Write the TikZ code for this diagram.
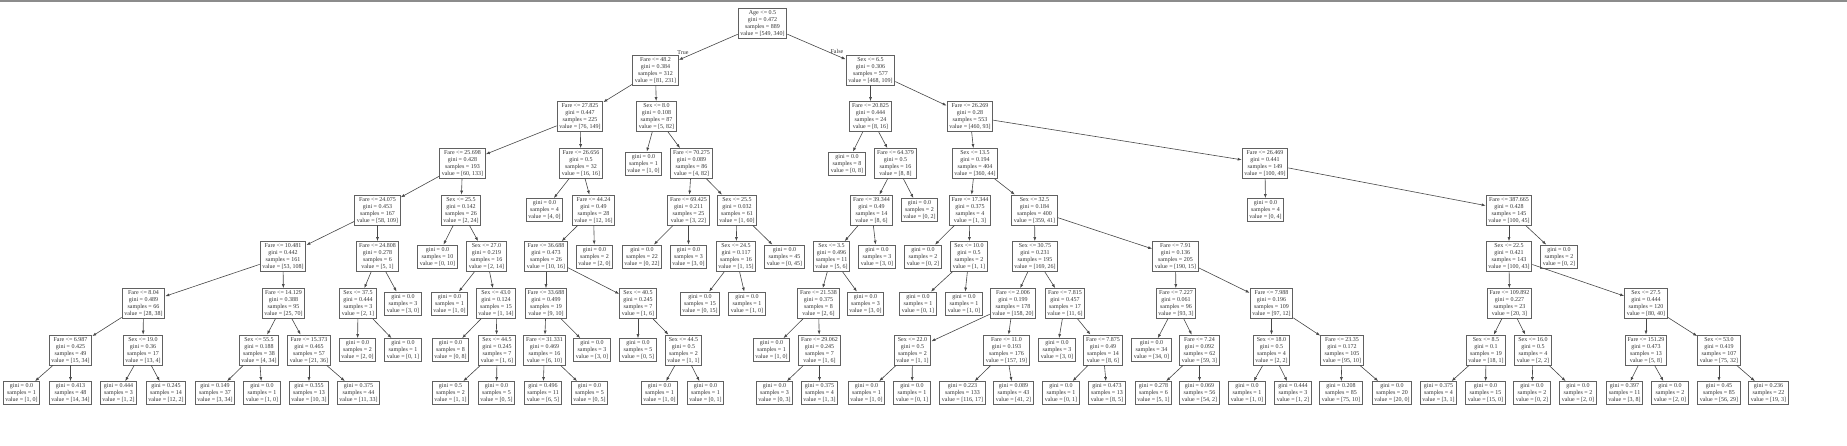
\documentclass[tikz,border=0pt]{standalone}
\usepackage{fontspec}
\setmainfont{Liberation Serif}
\usetikzlibrary{arrows.meta}

\tikzset{
  tn/.style={draw=black!62, line width=0.9pt, fill=white, align=center,
    inner xsep=2.2pt, inner ysep=2pt, text=black!80,
    font=\fontsize{6}{7}\selectfont},
  ar/.style={draw=black!72, line width=0.6pt, -{Latex[length=4pt,width=3pt]}},
  lbl/.style={font=\fontsize{6}{7}\selectfont, text=black!80, inner sep=1pt}
}
\newcommand{\spbox}[4]{#1\\gini = #2\\samples = #3\\value = [#4]}
\newcommand{\lfbox}[3]{gini = #1\\samples = #2\\value = [#3]}

\begin{document}
\begin{tikzpicture}[x=1pt,y=-1pt]
\useasboundingbox (0,0) rectangle (1847,445);
\draw[black!45, line width=1.2pt] (0,1) -- (1847,1);

% root and left half
\node[tn] (n0) at (762.5,23.5) {\spbox{Age <= 0.5}{0.472}{889}{549, 340}};
\node[tn] (n1) at (655.5,70) {\spbox{Fare <= 48.2}{0.384}{312}{81, 231}};
\node[tn] (n2) at (580,116.5) {\spbox{Fare <= 27.825}{0.447}{225}{76, 149}};
\node[tn] (n3) at (462.5,163.5) {\spbox{Fare <= 25.698}{0.428}{193}{60, 133}};
\node[tn] (n4) at (377.5,210) {\spbox{Fare <= 24.075}{0.453}{167}{58, 109}};
\node[tn] (n5) at (283,256.5) {\spbox{Fare <= 10.481}{0.442}{161}{53, 108}};
\node[tn] (n6) at (143.5,303.5) {\spbox{Fare <= 8.04}{0.489}{66}{28, 38}};
\node[tn] (n7) at (70.5,350) {\spbox{Fare <= 6.987}{0.425}{49}{15, 34}};
\node[tn] (n8) at (21.5,393) {\lfbox{0.0}{1}{1, 0}};
\node[tn] (n9) at (70.5,393) {\lfbox{0.413}{48}{14, 34}};
\node[tn] (n10) at (143,350) {\spbox{Sex <= 19.0}{0.36}{17}{13, 4}};
\node[tn] (n11) at (118.5,393) {\lfbox{0.444}{3}{1, 2}};
\node[tn] (n12) at (166,393) {\lfbox{0.245}{14}{12, 2}};
\node[tn] (n13) at (283.5,303.5) {\spbox{Fare <= 14.129}{0.388}{95}{25, 70}};
\node[tn] (n14) at (259,350) {\spbox{Sex <= 55.5}{0.188}{38}{4, 34}};
\node[tn] (n15) at (215,393) {\lfbox{0.149}{37}{3, 34}};
\node[tn] (n16) at (262,393) {\lfbox{0.0}{1}{1, 0}};
\node[tn] (n17) at (309,350) {\spbox{Fare <= 15.373}{0.465}{57}{21, 36}};
\node[tn] (n18) at (309,393) {\lfbox{0.355}{13}{10, 3}};
\node[tn] (n19) at (358.5,393) {\lfbox{0.375}{44}{11, 33}};
\node[tn] (n20) at (377.5,256.5) {\spbox{Fare <= 24.808}{0.278}{6}{5, 1}};
\node[tn] (n21) at (358,303.5) {\spbox{Sex <= 37.5}{0.444}{3}{2, 1}};
\node[tn] (n22) at (357.5,350) {\lfbox{0.0}{2}{2, 0}};
\node[tn] (n23) at (403,350) {\lfbox{0.0}{1}{0, 1}};
\node[tn] (n24) at (403,303.5) {\lfbox{0.0}{3}{3, 0}};
\node[tn] (n25) at (461,210) {\spbox{Sex <= 25.5}{0.142}{26}{2, 24}};
\node[tn] (n26) at (437.5,256.5) {\lfbox{0.0}{10}{0, 10}};
\node[tn] (n27) at (486.5,256.5) {\spbox{Sex <= 27.0}{0.219}{16}{2, 14}};
\node[tn] (n28) at (449.5,303.5) {\lfbox{0.0}{1}{1, 0}};
\node[tn] (n29) at (496,303.5) {\spbox{Sex <= 43.0}{0.124}{15}{1, 14}};
\node[tn] (n30) at (450.5,350) {\lfbox{0.0}{8}{0, 8}};
\node[tn] (n31) at (497,350) {\spbox{Sex <= 44.5}{0.245}{7}{1, 6}};
\node[tn] (n32) at (450.5,393) {\lfbox{0.5}{2}{1, 1}};
\node[tn] (n33) at (496.5,393) {\lfbox{0.0}{5}{0, 5}};
\node[tn] (n34) at (581,163.5) {\spbox{Fare <= 26.656}{0.5}{32}{16, 16}};
\node[tn] (n35) at (544.5,210) {\lfbox{0.0}{4}{4, 0}};
\node[tn] (n36) at (593.5,210) {\spbox{Fare <= 44.24}{0.49}{28}{12, 16}};
\node[tn] (n37) at (546,256.5) {\spbox{Fare <= 36.688}{0.473}{26}{10, 16}};
\node[tn] (n38) at (546,303.5) {\spbox{Fare <= 33.688}{0.499}{19}{9, 10}};
\node[tn] (n39) at (544.5,350) {\spbox{Fare <= 31.331}{0.469}{16}{6, 10}};
\node[tn] (n40) at (543,393) {\lfbox{0.496}{11}{6, 5}};
\node[tn] (n41) at (589.5,393) {\lfbox{0.0}{5}{0, 5}};
\node[tn] (n42) at (592,350) {\lfbox{0.0}{3}{3, 0}};
\node[tn] (n43) at (638,303.5) {\spbox{Sex <= 40.5}{0.245}{7}{1, 6}};
\node[tn] (n44) at (638,350) {\lfbox{0.0}{5}{0, 5}};
\node[tn] (n45) at (683.5,350) {\spbox{Sex <= 44.5}{0.5}{2}{1, 1}};
\node[tn] (n46) at (659.5,393) {\lfbox{0.0}{1}{1, 0}};
\node[tn] (n47) at (705.5,393) {\lfbox{0.0}{1}{0, 1}};
\node[tn] (n48) at (594.5,256.5) {\lfbox{0.0}{2}{2, 0}};
\node[tn] (n49) at (656.5,116.5) {\spbox{Sex <= 8.0}{0.108}{87}{5, 82}};
\node[tn] (n50) at (643.5,163.5) {\lfbox{0.0}{1}{1, 0}};
\node[tn] (n51) at (691.5,163.5) {\spbox{Fare <= 70.275}{0.089}{86}{4, 82}};
\node[tn] (n52) at (688.5,210) {\spbox{Fare <= 69.425}{0.211}{25}{3, 22}};
\node[tn] (n53) at (642,256.5) {\lfbox{0.0}{22}{0, 22}};
\node[tn] (n54) at (688.5,256.5) {\lfbox{0.0}{3}{3, 0}};
\node[tn] (n55) at (737,210) {\spbox{Sex <= 25.5}{0.032}{61}{1, 60}};
\node[tn] (n56) at (736,256.5) {\spbox{Sex <= 24.5}{0.117}{16}{1, 15}};
\node[tn] (n57) at (700,303.5) {\lfbox{0.0}{15}{0, 15}};
\node[tn] (n58) at (747,303.5) {\lfbox{0.0}{1}{1, 0}};
\node[tn] (n59) at (784.5,256.5) {\lfbox{0.0}{45}{0, 45}};

% right half
\node[tn] (n60) at (870.5,70) {\spbox{Sex <= 6.5}{0.306}{577}{468, 109}};
\node[tn] (n61) at (870.5,116.5) {\spbox{Fare <= 20.825}{0.444}{24}{8, 16}};
\node[tn] (n62) at (847,163.5) {\lfbox{0.0}{8}{0, 8}};
\node[tn] (n63) at (895.5,163.5) {\spbox{Fare <= 64.379}{0.5}{16}{8, 8}};
\node[tn] (n64) at (871.5,210) {\spbox{Fare <= 39.344}{0.49}{14}{8, 6}};
\node[tn] (n65) at (831.5,256.5) {\spbox{Sex <= 3.5}{0.496}{11}{5, 6}};
\node[tn] (n66) at (818.5,303.5) {\spbox{Fare <= 21.538}{0.375}{8}{2, 6}};
\node[tn] (n67) at (771.5,350) {\lfbox{0.0}{1}{1, 0}};
\node[tn] (n68) at (819.5,350) {\spbox{Fare <= 29.062}{0.245}{7}{1, 6}};
\node[tn] (n69) at (774.5,393) {\lfbox{0.0}{3}{0, 3}};
\node[tn] (n70) at (819.5,393) {\lfbox{0.375}{4}{1, 3}};
\node[tn] (n71) at (865.5,303.5) {\lfbox{0.0}{3}{3, 0}};
\node[tn] (n72) at (877,256.5) {\lfbox{0.0}{3}{3, 0}};
\node[tn] (n73) at (919.5,210) {\lfbox{0.0}{2}{0, 2}};
\node[tn] (n74) at (970,116.5) {\spbox{Fare <= 26.269}{0.28}{553}{460, 93}};
\node[tn] (n75) at (975,163.5) {\spbox{Sex <= 13.5}{0.194}{404}{360, 44}};
\node[tn] (n76) at (970,210) {\spbox{Fare <= 17.344}{0.375}{4}{1, 3}};
\node[tn] (n77) at (923,256.5) {\lfbox{0.0}{2}{0, 2}};
\node[tn] (n78) at (969,256.5) {\spbox{Sex <= 10.0}{0.5}{2}{1, 1}};
\node[tn] (n79) at (918,303.5) {\lfbox{0.0}{1}{0, 1}};
\node[tn] (n80) at (964,303.5) {\lfbox{0.0}{1}{1, 0}};
\node[tn] (n81) at (1034.5,210) {\spbox{Sex <= 32.5}{0.184}{400}{359, 41}};
\node[tn] (n82) at (1035,256.5) {\spbox{Sex <= 30.75}{0.231}{195}{169, 26}};
\node[tn] (n83) at (1013,303.5) {\spbox{Fare <= 2.006}{0.199}{178}{158, 20}};
\node[tn] (n84) at (912.5,350) {\spbox{Sex <= 22.0}{0.5}{2}{1, 1}};
\node[tn] (n85) at (866.5,393) {\lfbox{0.0}{1}{1, 0}};
\node[tn] (n86) at (912,393) {\lfbox{0.0}{1}{0, 1}};
\node[tn] (n87) at (1006.5,350) {\spbox{Fare <= 11.0}{0.193}{176}{157, 19}};
\node[tn] (n88) at (962.5,393) {\lfbox{0.223}{133}{116, 17}};
\node[tn] (n89) at (1013.5,393) {\lfbox{0.089}{43}{41, 2}};
\node[tn] (n90) at (1065,303.5) {\spbox{Fare <= 7.815}{0.457}{17}{11, 6}};
\node[tn] (n91) at (1057,350) {\lfbox{0.0}{3}{3, 0}};
\node[tn] (n92) at (1103,350) {\spbox{Fare <= 7.875}{0.49}{14}{8, 6}};
\node[tn] (n93) at (1061,393) {\lfbox{0.0}{1}{0, 1}};
\node[tn] (n94) at (1107,393) {\lfbox{0.473}{13}{8, 5}};
\node[tn] (n95) at (1175.5,256.5) {\spbox{Fare <= 7.91}{0.136}{205}{190, 15}};
\node[tn] (n96) at (1176,303.5) {\spbox{Fare <= 7.227}{0.061}{96}{93, 3}};
\node[tn] (n97) at (1151.5,350) {\lfbox{0.0}{34}{34, 0}};
\node[tn] (n98) at (1199.5,350) {\spbox{Fare <= 7.24}{0.092}{62}{59, 3}};
\node[tn] (n99) at (1153.5,393) {\lfbox{0.278}{6}{5, 1}};
\node[tn] (n100) at (1199.5,393) {\lfbox{0.069}{56}{54, 2}};
\node[tn] (n101) at (1271.5,303.5) {\spbox{Fare <= 7.988}{0.196}{109}{97, 12}};
\node[tn] (n102) at (1271.5,350) {\spbox{Sex <= 18.0}{0.5}{4}{2, 2}};
\node[tn] (n103) at (1247,393) {\lfbox{0.0}{1}{1, 0}};
\node[tn] (n104) at (1293,393) {\lfbox{0.444}{3}{1, 2}};
\node[tn] (n105) at (1342,350) {\spbox{Fare <= 23.35}{0.172}{105}{95, 10}};
\node[tn] (n106) at (1341,393) {\lfbox{0.208}{85}{75, 10}};
\node[tn] (n107) at (1392,393) {\lfbox{0.0}{20}{20, 0}};
\node[tn] (n108) at (1265,163.5) {\spbox{Fare <= 26.469}{0.441}{149}{100, 49}};
\node[tn] (n109) at (1265.5,210) {\lfbox{0.0}{4}{0, 4}};
\node[tn] (n110) at (1509,210) {\spbox{Fare <= 387.665}{0.428}{145}{100, 45}};
\node[tn] (n111) at (1509,256.5) {\spbox{Sex <= 22.5}{0.421}{143}{100, 43}};
\node[tn] (n112) at (1509.5,303.5) {\spbox{Fare <= 109.892}{0.227}{23}{20, 3}};
\node[tn] (n113) at (1486,350) {\spbox{Sex <= 8.5}{0.1}{19}{18, 1}};
\node[tn] (n114) at (1438.5,393) {\lfbox{0.375}{4}{3, 1}};
\node[tn] (n115) at (1485.5,393) {\lfbox{0.0}{15}{15, 0}};
\node[tn] (n116) at (1533,350) {\spbox{Sex <= 16.0}{0.5}{4}{2, 2}};
\node[tn] (n117) at (1532,393) {\lfbox{0.0}{2}{0, 2}};
\node[tn] (n118) at (1578,393) {\lfbox{0.0}{2}{2, 0}};
\node[tn] (n119) at (1646,303.5) {\spbox{Sex <= 27.5}{0.444}{120}{80, 40}};
\node[tn] (n120) at (1646,350) {\spbox{Fare <= 151.29}{0.473}{13}{5, 8}};
\node[tn] (n121) at (1624.5,393) {\lfbox{0.397}{11}{3, 8}};
\node[tn] (n122) at (1670,393) {\lfbox{0.0}{2}{2, 0}};
\node[tn] (n123) at (1719,350) {\spbox{Sex <= 53.0}{0.419}{107}{75, 32}};
\node[tn] (n124) at (1719,393) {\lfbox{0.45}{85}{56, 29}};
\node[tn] (n125) at (1768.5,393) {\lfbox{0.236}{22}{19, 3}};
\node[tn] (n126) at (1559,256.5) {\lfbox{0.0}{2}{0, 2}};

% edges
\draw[ar] (n0) -- node[lbl, pos=0.93, above=2pt] (ltrue) {True} (n1);
\draw[ar] (n0) -- node[lbl, pos=0.85, above=1pt] (lfalse) {False} (n60);
\path (n1) edge[ar] (n2) edge[ar] (n49);
\path (n2) edge[ar] (n3) edge[ar] (n34);
\path (n3) edge[ar] (n4) edge[ar] (n25);
\path (n4) edge[ar] (n5) edge[ar] (n20);
\path (n5) edge[ar] (n6) edge[ar] (n13);
\path (n6) edge[ar] (n7) edge[ar] (n10);
\path (n7) edge[ar] (n8) edge[ar] (n9);
\path (n10) edge[ar] (n11) edge[ar] (n12);
\path (n13) edge[ar] (n14) edge[ar] (n17);
\path (n14) edge[ar] (n15) edge[ar] (n16);
\path (n17) edge[ar] (n18) edge[ar] (n19);
\path (n20) edge[ar] (n21) edge[ar] (n24);
\path (n21) edge[ar] (n22) edge[ar] (n23);
\path (n25) edge[ar] (n26) edge[ar] (n27);
\path (n27) edge[ar] (n28) edge[ar] (n29);
\path (n29) edge[ar] (n30) edge[ar] (n31);
\path (n31) edge[ar] (n32) edge[ar] (n33);
\path (n34) edge[ar] (n35) edge[ar] (n36);
\path (n36) edge[ar] (n37) edge[ar] (n48);
\path (n37) edge[ar] (n38) edge[ar] (n43);
\path (n38) edge[ar] (n39) edge[ar] (n42);
\path (n39) edge[ar] (n40) edge[ar] (n41);
\path (n43) edge[ar] (n44) edge[ar] (n45);
\path (n45) edge[ar] (n46) edge[ar] (n47);
\path (n49) edge[ar] (n50) edge[ar] (n51);
\path (n51) edge[ar] (n52) edge[ar] (n55);
\path (n52) edge[ar] (n53) edge[ar] (n54);
\path (n55) edge[ar] (n56) edge[ar] (n59);
\path (n56) edge[ar] (n57) edge[ar] (n58);
\path (n60) edge[ar] (n61) edge[ar] (n74);
\path (n61) edge[ar] (n62) edge[ar] (n63);
\path (n63) edge[ar] (n64) edge[ar] (n73);
\path (n64) edge[ar] (n65) edge[ar] (n72);
\path (n65) edge[ar] (n66) edge[ar] (n71);
\path (n66) edge[ar] (n67) edge[ar] (n68);
\path (n68) edge[ar] (n69) edge[ar] (n70);
\path (n74) edge[ar] (n75) edge[ar] (n108);
\path (n75) edge[ar] (n76) edge[ar] (n81);
\path (n76) edge[ar] (n77) edge[ar] (n78);
\path (n78) edge[ar] (n79) edge[ar] (n80);
\path (n81) edge[ar] (n82) edge[ar] (n95);
\path (n82) edge[ar] (n83) edge[ar] (n90);
\path (n83) edge[ar] (n84) edge[ar] (n87);
\path (n84) edge[ar] (n85) edge[ar] (n86);
\path (n87) edge[ar] (n88) edge[ar] (n89);
\path (n90) edge[ar] (n91) edge[ar] (n92);
\path (n92) edge[ar] (n93) edge[ar] (n94);
\path (n95) edge[ar] (n96) edge[ar] (n101);
\path (n96) edge[ar] (n97) edge[ar] (n98);
\path (n98) edge[ar] (n99) edge[ar] (n100);
\path (n101) edge[ar] (n102) edge[ar] (n105);
\path (n102) edge[ar] (n103) edge[ar] (n104);
\path (n105) edge[ar] (n106) edge[ar] (n107);
\path (n108) edge[ar] (n109) edge[ar] (n110);
\path (n110) edge[ar] (n111) edge[ar] (n126);
\path (n111) edge[ar] (n112) edge[ar] (n119);
\path (n112) edge[ar] (n113) edge[ar] (n116);
\path (n113) edge[ar] (n114) edge[ar] (n115);
\path (n116) edge[ar] (n117) edge[ar] (n118);
\path (n119) edge[ar] (n120) edge[ar] (n123);
\path (n120) edge[ar] (n121) edge[ar] (n122);
\path (n123) edge[ar] (n124) edge[ar] (n125);

\end{tikzpicture}
\end{document}
